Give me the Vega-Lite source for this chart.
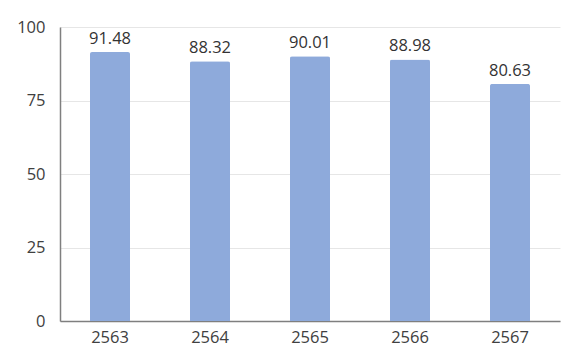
{
  "$schema": "https://vega.github.io/schema/vega-lite/v6.json",
  "autosize": "none",
  "width": 500,
  "height": 294,
  "padding": {"left": 60, "top": 27, "right": 2, "bottom": 31},
  "background": "white",
  "data": {"values": [
    {"year": "2563", "value": 91.48},
    {"year": "2564", "value": 88.32},
    {"year": "2565", "value": 90.01},
    {"year": "2566", "value": 88.98},
    {"year": "2567", "value": 80.63}
  ]},
  "config": {"view": {"stroke": null}, "font": "Open Sans"},
  "encoding": {
    "x": {"field": "year", "type": "nominal", "sort": null,
      "scale": {"paddingInner": 0.6, "paddingOuter": 0.3},
      "axis": {"title": null, "labelAngle": 0, "ticks": false, "domainColor": "#7f7f7f", "domainWidth": 1.5, "labelFontSize": 16.5, "labelColor": "#404040", "labelPadding": 8, "grid": false}},
    "y": {"field": "value", "type": "quantitative",
      "scale": {"domain": [0, 100], "nice": false},
      "axis": {"title": null, "values": [0, 25, 50, 75, 100], "ticks": false, "domain": true, "domainColor": "#7f7f7f", "domainWidth": 1.5, "gridColor": "#e6e6e6", "labelFontSize": 16.5, "labelColor": "#404040", "labelPadding": 15}}
  },
  "layer": [
    {"mark": {"type": "bar", "color": "#8eaadb", "cornerRadiusTopLeft": 2, "cornerRadiusTopRight": 2}},
    {"mark": {"type": "text", "baseline": "bottom", "dy": -5, "fontSize": 16.5, "color": "#333333"},
      "encoding": {"text": {"field": "value", "type": "quantitative", "format": ".2f"}}}
  ]
}
